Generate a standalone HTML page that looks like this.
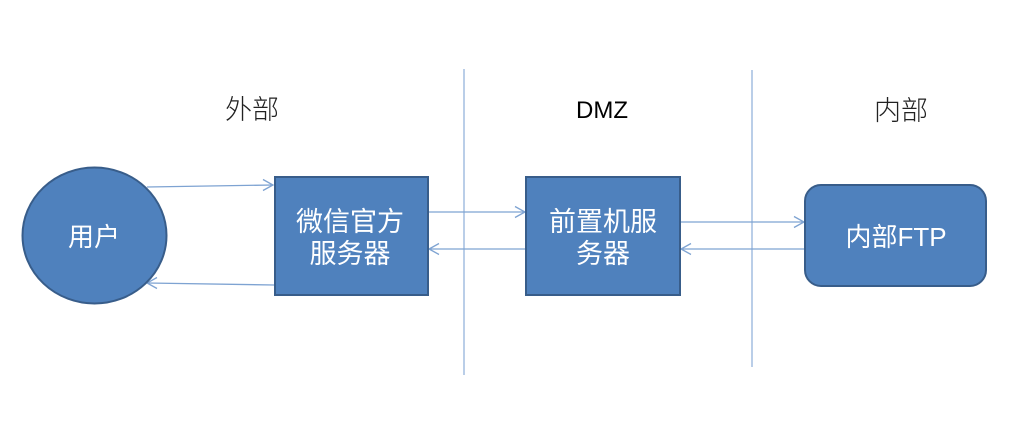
<!DOCTYPE html>
<html>
<head>
<meta charset="utf-8">
<style>
html,body{margin:0;padding:0;background:#fff;}
svg{display:block;}
.cj{font-family:"Liberation Sans","Noto Sans CJK SC",sans-serif;}
</style>
</head>
<body>
<svg width="1024" height="430" viewBox="0 0 1024 430" xmlns="http://www.w3.org/2000/svg">
  <rect width="1024" height="430" fill="#fff"/>
  <!-- vertical dividers -->
  <line x1="464" y1="69" x2="464" y2="375" stroke="#A3BDE0" stroke-width="1.5"/>
  <line x1="752" y1="70" x2="752" y2="367" stroke="#A3BDE0" stroke-width="1.5"/>

  <!-- labels -->
  <text x="252" y="119" text-anchor="middle" class="cj" font-size="27" font-weight="300" fill="#222">外部</text>
  <text x="602" y="118" text-anchor="middle" font-family="Liberation Sans, sans-serif" font-size="24" fill="#000">DMZ</text>
  <text x="901" y="120" text-anchor="middle" class="cj" font-size="27" font-weight="300" fill="#222">内部</text>

  <!-- connectors -->
  <g stroke="#7EA3D2" stroke-width="1.3" fill="none">
    <line x1="147" y1="187" x2="273" y2="185"/>
    <polyline points="263,179.5 273,185 263,190.5"/>
    <line x1="274" y1="285" x2="147" y2="283"/>
    <polyline points="157,277.5 147,283 157,288.5"/>

    <line x1="429" y1="212" x2="525" y2="212"/>
    <polyline points="515,206.5 525,212 515,217.5"/>
    <line x1="525" y1="249" x2="429" y2="249"/>
    <polyline points="439,243.5 429,249 439,254.5"/>

    <line x1="681" y1="222" x2="804" y2="222"/>
    <polyline points="794,216.5 804,222 794,227.5"/>
    <line x1="804" y1="249" x2="681" y2="249"/>
    <polyline points="691,243.5 681,249 691,254.5"/>
  </g>

  <!-- user circle -->
  <ellipse cx="94.5" cy="235.5" rx="72" ry="68" fill="#4F81BD" stroke="#385D8A" stroke-width="2"/>
  <text x="94" y="246" text-anchor="middle" class="cj" font-size="26" fill="#fff">用户</text>

  <!-- wechat server -->
  <rect x="275" y="177" width="153" height="118" fill="#4F81BD" stroke="#385D8A" stroke-width="2"/>
  <text x="350" y="231" text-anchor="middle" class="cj" font-size="27" fill="#fff">微信官方</text>
  <text x="350" y="263" text-anchor="middle" class="cj" font-size="27" fill="#fff">服务器</text>

  <!-- front server -->
  <rect x="526" y="177" width="154" height="118" fill="#4F81BD" stroke="#385D8A" stroke-width="2"/>
  <text x="603" y="231" text-anchor="middle" class="cj" font-size="27" fill="#fff">前置机服</text>
  <text x="603" y="263" text-anchor="middle" class="cj" font-size="27" fill="#fff">务器</text>

  <!-- internal FTP -->
  <rect x="805" y="185" width="181" height="101" rx="16" ry="16" fill="#4F81BD" stroke="#385D8A" stroke-width="2"/>
  <text x="896" y="246" text-anchor="middle" class="cj" font-size="26" fill="#fff">内部FTP</text>
</svg>
</body>
</html>
